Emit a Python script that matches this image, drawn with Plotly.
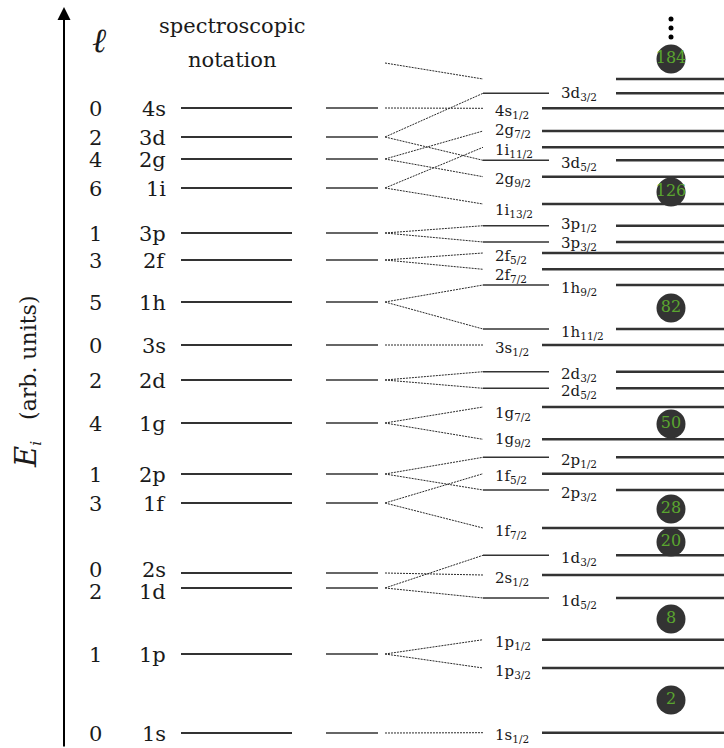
import plotly.graph_objects as go

# Harmonic-oscillator orbitals with the l^2 correction (bottom to top)
orbitals = ["1s", "1p", "1d", "2s", "1f", "2p", "1g", "2d",
            "3s", "1h", "2f", "3p", "1i", "2g", "3d", "4s"]
ell_values = [0, 1, 2, 0, 3, 1, 4, 2, 0, 5, 3, 1, 6, 4, 2, 0]
orbital_E = [1.5, 9.4, 16.0, 17.5, 24.5, 27.4, 32.5, 36.8,
             40.3, 44.6, 48.8, 51.5, 56.0, 58.9, 61.1, 64.0]

# Spin-orbit split states
state_orbital = ["1s", "1p", "1p", "1d", "2s", "1d", "1f", "2p", "1f", "2p",
                 "1g", "1g", "2d", "2d", "3s", "1h", "1h", "2f", "2f", "3p",
                 "3p", "1i", "2g", "3d", "1i", "2g", "4s", "3d"]
state_j = ["1/2", "3/2", "1/2", "5/2", "1/2", "3/2", "7/2", "3/2", "5/2", "1/2",
           "9/2", "7/2", "5/2", "3/2", "1/2", "11/2", "9/2", "7/2", "5/2", "3/2",
           "1/2", "13/2", "9/2", "5/2", "11/2", "7/2", "1/2", "3/2"]
state_E = [1.53, 8.0, 10.83, 15.0, 17.3, 19.27, 22.0, 25.8, 27.43, 29.07,
           30.87, 34.1, 35.97, 37.63, 40.3, 41.9, 46.3, 47.87, 49.5, 50.6,
           52.23, 54.4, 57.13, 58.77, 60.07, 61.7, 63.97, 65.47]

# First state of the next shell (only partially shown)
next_shell_from_E = 68.5
next_shell_E = 66.9

# Shell closures
magic_numbers = [2, 8, 20, 28, 50, 82, 126, 184]
magic_E = [4.8, 12.9, 20.6, 23.9, 32.4, 44.0, 55.6, 68.9]
ellipsis_E = [72.9, 72.0, 71.1]

# ---- layout constants (pixels along x) ----
FONT = "DejaVu Serif"
DARK = "#333333"
INK = "#1a1a1a"
GREEN = "#5aa52f"
X_AXIS = 64
X_ELL = 95
X_ORB = 168
LEFT = (181, 292)
MID = (326, 378)
FAN = (385, 483)
SHORT = (483, 549)
LONG = (542, 724)
RIGHT = (616, 724)
X_MAGIC = 671
RIGHT_LABEL_ORBITALS = {"1d", "2p", "2d", "1h", "3p", "3d"}
# small vertical nudges (px, positive = up) where labels sit close together
ORB_NUDGE = {"2s": 4, "1d": -3}
STATE_NUDGE = {("2g", "7/2"): 4, ("3p", "1/2"): 4, ("3d", "3/2"): 3,
               ("1g", "9/2"): 3, ("2f", "7/2"): -3, ("1g", "7/2"): -3,
               ("1i", "13/2"): -3, ("3p", "3/2"): 2}

fig = go.Figure()


def segments(x0, x1, ys0, ys1=None):
    xs, ys = [], []
    ys1 = ys0 if ys1 is None else ys1
    for a, b in zip(ys0, ys1):
        xs += [x0, x1, None]
        ys += [a, b, None]
    return xs, ys


def add_lines(xs, ys, color, width, dash="solid"):
    fig.add_trace(go.Scatter(x=xs, y=ys, mode="lines", hoverinfo="skip",
                             line=dict(color=color, width=width, dash=dash)))


# orbital levels
add_lines(*segments(LEFT[0], LEFT[1], orbital_E), DARK, 2)
add_lines(*segments(MID[0], MID[1], orbital_E), "#333333", 1.4)

# fan-out lines from each orbital to its split states
parent_E = [orbital_E[orbitals.index(o)] for o in state_orbital]
fx, fy = segments(FAN[0], FAN[1], parent_E + [next_shell_from_E], state_E + [next_shell_E])
add_lines(fx, fy, "#2a2a2a", 1, dash="2px,1px")

short_E = [e for o, e in zip(state_orbital, state_E) if o in RIGHT_LABEL_ORBITALS]
long_E = [e for o, e in zip(state_orbital, state_E) if o not in RIGHT_LABEL_ORBITALS]
add_lines(*segments(SHORT[0], SHORT[1], short_E), "#333333", 1.6)
add_lines(*segments(RIGHT[0], RIGHT[1], short_E + [next_shell_E]), DARK, 2.5)
add_lines(*segments(LONG[0], LONG[1], long_E), DARK, 2.5)

# magic-number badges
fig.add_trace(go.Scatter(
    x=[X_MAGIC] * len(magic_E), y=magic_E, mode="markers+text",
    marker=dict(size=29, color=DARK, line=dict(width=0)),
    text=[str(m) for m in magic_numbers], textposition="middle center",
    textfont=dict(family=FONT, size=16, color=GREEN), hoverinfo="skip"))
fig.add_trace(go.Scatter(
    x=[X_MAGIC] * len(ellipsis_E), y=ellipsis_E, mode="markers",
    marker=dict(size=5, color="black"), hoverinfo="skip"))

ann = []
big = dict(family=FONT, size=21, color=INK)
small = dict(family=FONT, size=15, color=INK)

for o, l, e in zip(orbitals, ell_values, orbital_E):
    s = ORB_NUDGE.get(o, 0) - 1
    ann.append(dict(x=X_ELL, y=e, text=str(l), xanchor="center", yanchor="middle",
                    font=big, showarrow=False, yshift=s))
    ann.append(dict(x=X_ORB, y=e, text=o, xanchor="right", yanchor="middle",
                    font=big, showarrow=False, yshift=s))

for o, j, e in zip(state_orbital, state_j, state_E):
    right = o in RIGHT_LABEL_ORBITALS
    ann.append(dict(x=559 if right else 493, y=e, text=f"{o}<sub>{j}</sub>",
                    xanchor="left", yanchor="middle", font=small,
                    showarrow=False, yshift=STATE_NUDGE.get((o, j), 0) - 3))

# column header
ann.append(dict(x=232, y=72.2, text="spectroscopic", xanchor="center",
                yanchor="middle", font=big, showarrow=False))
ann.append(dict(x=232, y=68.8, text="notation", xanchor="center",
                yanchor="middle", font=big, showarrow=False))
ann.append(dict(x=99, y=70.8, text="<i>ℓ</i>", xanchor="center", yanchor="middle",
                font=dict(family=FONT, size=34, color=INK), showarrow=False))
# energy axis title and arrow
ann.append(dict(x=27, y=36.6,
                text="<span style='font-size:29px'><i>E</i></span><sub><i>i</i></sub>"
                     "\u00a0\u00a0\u00a0(arb. units)",
                textangle=-90, xanchor="center", yanchor="middle",
                font=dict(family=FONT, size=22, color=INK), showarrow=False))
ann.append(dict(x=X_AXIS, y=74.1, ax=X_AXIS, ay=0, xref="x", yref="y",
                axref="x", ayref="y", text="", showarrow=True, arrowhead=2,
                arrowsize=1.3, arrowwidth=2, arrowcolor="black"))

fig.update_layout(
    width=724, height=748, margin=dict(l=0, r=0, t=0, b=0),
    paper_bgcolor="white", plot_bgcolor="white", showlegend=False,
    xaxis=dict(range=[0, 724], visible=False, fixedrange=True),
    yaxis=dict(range=[0, 74.8], visible=False, fixedrange=True),
    annotations=ann, hovermode=False)

fig.write_html("out.html")
